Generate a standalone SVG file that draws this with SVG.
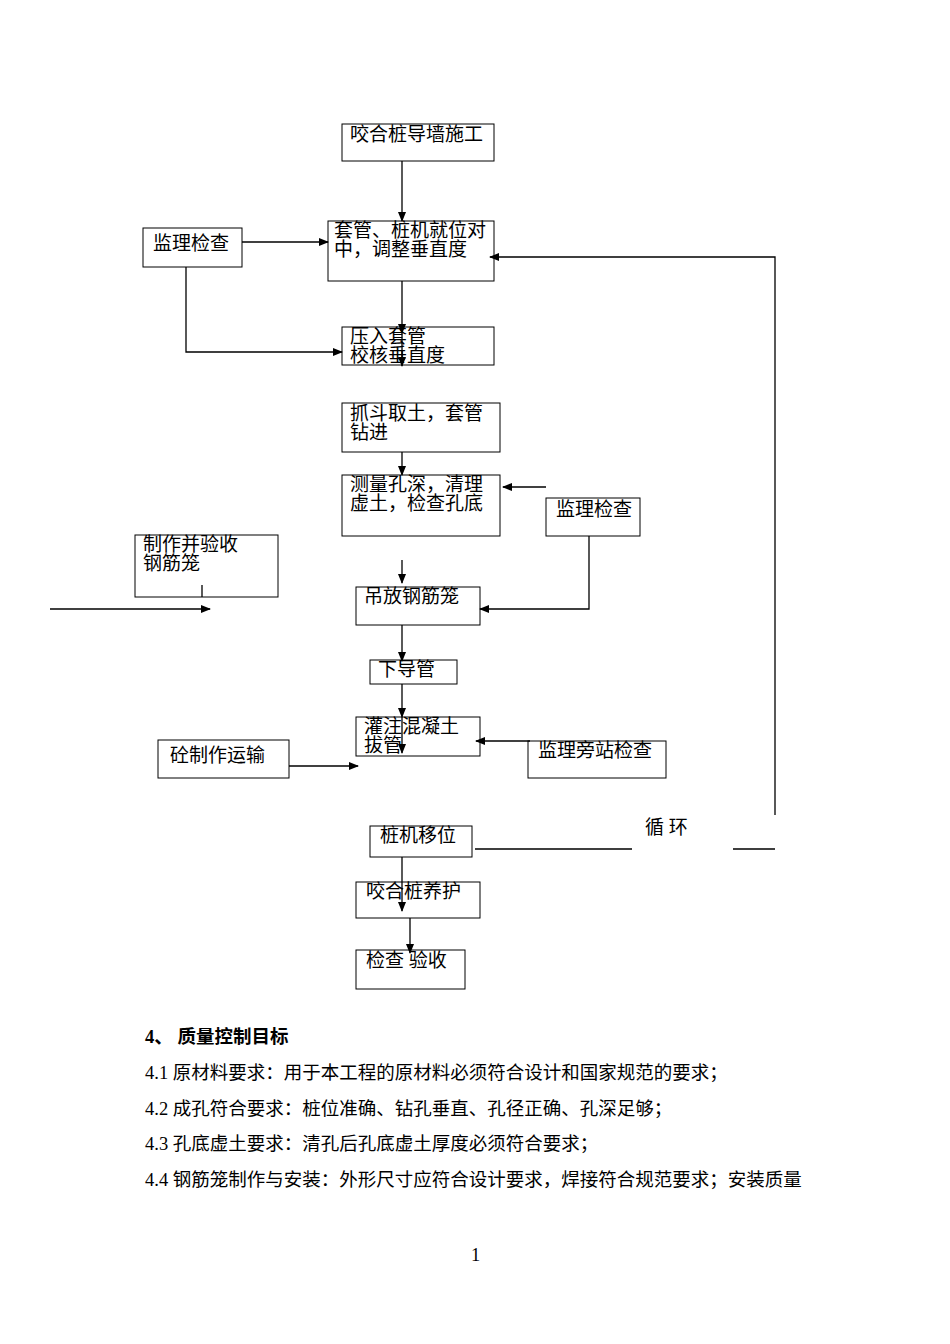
<svg xmlns="http://www.w3.org/2000/svg" width="950" height="1344" viewBox="0 0 950 1344">
<style>
.b{fill:#fff;stroke:#000;stroke-width:1}
.t{font-family:"Liberation Serif","Noto Sans CJK SC",serif;font-size:19px;fill:#000}
.p{font-family:"Liberation Serif","Noto Sans CJK SC",serif;font-size:18.5px;fill:#000}
.l{fill:none;stroke:#000;stroke-width:1.3}
</style>
<defs><marker id="a" markerWidth="10" markerHeight="8" refX="9" refY="4" orient="auto" markerUnits="userSpaceOnUse"><path d="M0,0L10,4L0,8z"/></marker></defs>
<rect width="950" height="1344" fill="#fff"/>
<g id="n1"><rect class="b" x="342" y="124" width="152" height="37"/><text class="t" x="350" y="141">咬合桩导墙施工</text></g>
<g id="n2"><rect class="b" x="328" y="221" width="166" height="60"/><text class="t" x="334" y="237">套管、桩机就位对</text><text class="t" x="334" y="256">中，调整垂直度</text></g>
<g id="n3"><rect class="b" x="143" y="228" width="99" height="39"/><text class="t" x="153" y="250">监理检查</text></g>
<g id="n4"><rect class="b" x="342" y="327" width="152" height="38"/><text class="t" x="350" y="343">压入套管</text><text class="t" x="350" y="362">校核垂直度</text></g>
<g id="n5"><rect class="b" x="342" y="403" width="158" height="49"/><text class="t" x="350" y="420">抓斗取土，套管</text><text class="t" x="350" y="439">钻进</text></g>
<g id="n6"><rect class="b" x="342" y="475" width="158" height="61"/><text class="t" x="350" y="491">测量孔深，清理</text><text class="t" x="350" y="510">虚土，检查孔底</text></g>
<g id="n7"><rect class="b" x="546" y="498" width="94" height="38"/><text class="t" x="556" y="516">监理检查</text></g>
<g id="n8"><rect class="b" x="135" y="535" width="143" height="62"/><text class="t" x="143" y="551">制作并验收</text><text class="t" x="143" y="570">钢筋笼</text></g>
<g id="n9"><rect class="b" x="356" y="587" width="124" height="38"/><text class="t" x="364" y="603">吊放钢筋笼</text></g>
<g id="n10"><rect class="b" x="370" y="660" width="87" height="24"/><text class="t" x="378" y="676">下导管</text></g>
<g id="n11"><rect class="b" x="356" y="717" width="124" height="39"/><text class="t" x="364" y="733">灌注混凝土</text><text class="t" x="364" y="752">拔管</text></g>
<g id="n12"><rect class="b" x="528" y="741" width="138" height="37"/><text class="t" x="538" y="757">监理旁站检查</text></g>
<g id="n13"><rect class="b" x="158" y="740" width="131" height="38"/><text class="t" x="170" y="762">砼制作运输</text></g>
<g id="n14"><rect class="b" x="370" y="826" width="102" height="31"/><text class="t" x="380" y="842">桩机移位</text></g>
<g id="n15"><rect class="b" x="356" y="882" width="124" height="36"/><text class="t" x="366" y="898">咬合桩养护</text></g>
<g id="n16"><rect class="b" x="356" y="950" width="109" height="39"/><text class="t" x="366" y="967">检查 验收</text></g>
<g id="connectors">
<path class="l" d="M402,161V221" marker-end="url(#a)"/>
<path class="l" d="M242,242H328" marker-end="url(#a)"/>
<path class="l" d="M186,267V352H342" marker-end="url(#a)"/>
<path class="l" d="M402,281V333" marker-end="url(#a)"/>
<path class="l" d="M402,333V366" marker-end="url(#a)"/>
<path class="l" d="M775,815V257H490" marker-end="url(#a)"/>
<path class="l" d="M402,452V475" marker-end="url(#a)"/>
<path class="l" d="M546,487H503" marker-end="url(#a)"/>
<path class="l" d="M589,536V609H480" marker-end="url(#a)"/>
<path class="l" d="M402,560V583" marker-end="url(#a)"/>
<path class="l" d="M202,585V597"/>
<path class="l" d="M50,609H210" marker-end="url(#a)"/>
<path class="l" d="M402,625V661" marker-end="url(#a)"/>
<path class="l" d="M402,684V717" marker-end="url(#a)"/>
<path class="l" d="M402,717V753" marker-end="url(#a)"/>
<path class="l" d="M530,741H476" marker-end="url(#a)"/>
<path class="l" d="M289,766H358" marker-end="url(#a)"/>
<path class="l" d="M475,849H632M733,849H775"/>
<path class="l" d="M402,857V911" marker-end="url(#a)"/>
<path class="l" d="M410,918V953" marker-end="url(#a)"/>
</g>
<text class="t" x="645" y="834">循 环</text>
<text class="p" x="145" y="1043" font-weight="bold">4、 质量控制目标</text>
<text class="p" x="145" y="1079">4.1 原材料要求：用于本工程的原材料必须符合设计和国家规范的要求；</text>
<text class="p" x="145" y="1115">4.2 成孔符合要求：桩位准确、钻孔垂直、孔径正确、孔深足够；</text>
<text class="p" x="145" y="1150">4.3 孔底虚土要求：清孔后孔底虚土厚度必须符合要求；</text>
<text class="p" x="145" y="1186">4.4 钢筋笼制作与安装：外形尺寸应符合设计要求，焊接符合规范要求；安装质量</text>
<text class="p" x="471" y="1261" font-size="13">1</text>
</svg>
